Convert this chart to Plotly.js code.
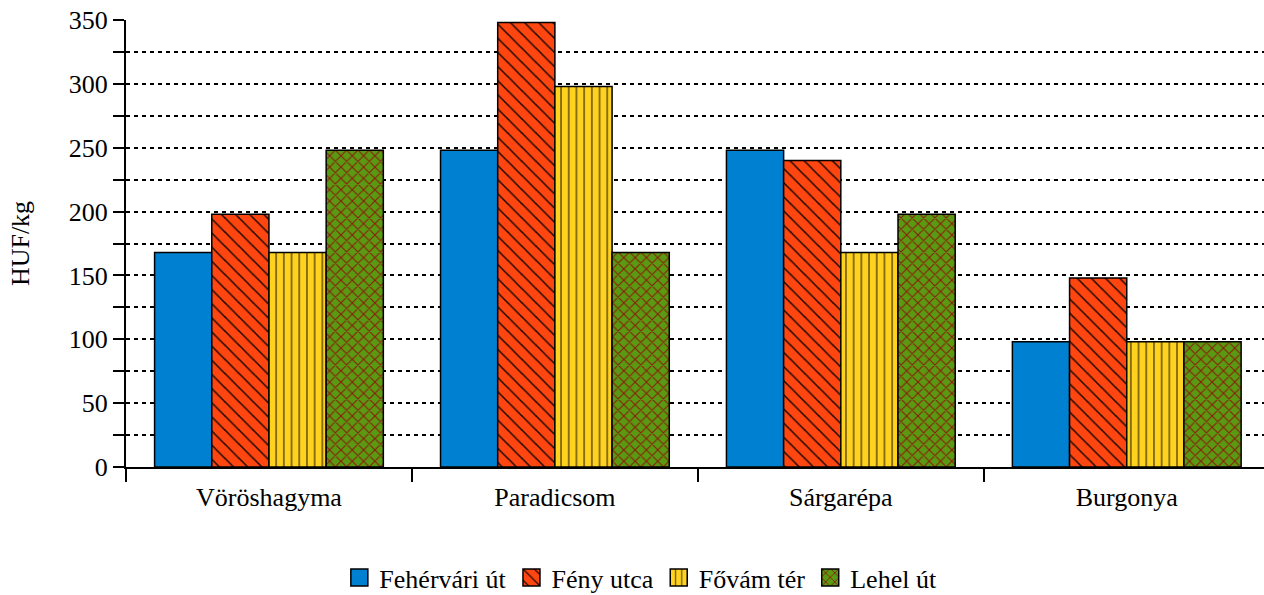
<!DOCTYPE html>
<html>
<head>
<meta charset="utf-8">
<script src="https://cdn.plot.ly/plotly-3.0.1.min.js"></script>
<style>
html,body{margin:0;padding:0;background:#fff;overflow:hidden}#chart{width:1264px;height:595px}
</style>
</head>
<body>
<div id="chart"></div>
<script>
const categories = ["Vöröshagyma", "Paradicsom", "Sárgarépa", "Burgonya"];
const seriesNames = ["Fehérvári út", "Fény utca", "Fővám tér", "Lehel út"];
const fehervari = [168, 248, 248, 98];
const fenyUtca = [198, 348, 240, 148];
const fovamTer = [168, 298, 168, 98];
const lehelUt = [248, 168, 198, 98];
const yTicks = [0, 50, 100, 150, 200, 250, 300, 350];

const FONT = "'Liberation Serif', 'Times New Roman', serif";
const values = [fehervari, fenyUtca, fovamTer, lehelUt];
const colors = ["#0080d0", "#ff4510", "#ffd21f", "#5a9a12"];
const patterns = [
  {shape: ""},
  {shape: "\\", fgcolor: "#1a0a00", bgcolor: "#ff4510", size: 10, solidity: 0.15, fillmode: "replace"},
  {shape: "|", fgcolor: "#6a5410", bgcolor: "#ffd21f", size: 7.7, solidity: 0.2, fillmode: "replace"},
  {shape: "x", fgcolor: "#8a1a0a", bgcolor: "#5a9a12", size: 8, solidity: 0.25, fillmode: "replace"}
];

const data = values.map((v, i) => ({
  type: "bar",
  name: seriesNames[i],
  x: categories,
  y: v,
  marker: {color: colors[i], line: {color: "#000", width: 1.5}, pattern: patterns[i]},
  hoverinfo: "none"
}));

const layout = {
  width: 1264, height: 595,
  margin: {l: 126, r: 0, t: 20, b: 128},
  paper_bgcolor: "#fff", plot_bgcolor: "#fff",
  font: {family: FONT, size: 26, color: "#000"},
  barmode: "group", bargap: 0.2, bargroupgap: 0,
  showlegend: true,
  legend: {
    orientation: "h", xref: "container", yref: "container",
    x: 0.507, xanchor: "center", y: 0, yanchor: "bottom",
    font: {family: FONT, size: 26, color: "#000"},
    itemwidth: 20, tracegroupgap: 0, borderwidth: 0
  },
  xaxis: {
    type: "category", range: [-0.5, 3.48],
    showgrid: false, zeroline: false,
    showline: true, linecolor: "#000", linewidth: 2,
    ticks: "outside", tickson: "boundaries", ticklen: 13, tickwidth: 2, tickcolor: "#000",
    ticklabelstandoff: 6,
    tickfont: {family: FONT, size: 26, color: "#000"}
  },
  yaxis: {
    range: [0, 350], tickvals: yTicks, ticktext: yTicks.map(String),
    showgrid: true, gridcolor: "#000", gridwidth: 2, griddash: "4px,4px",
    zeroline: false,
    showline: true, linecolor: "#000", linewidth: 2,
    ticks: "outside", ticklen: 11, tickwidth: 2, tickcolor: "#000",
    minor: {dtick: 25, tick0: 0, ticks: "outside", ticklen: 11, tickwidth: 2, tickcolor: "#000",
            showgrid: true, gridcolor: "#000", gridwidth: 2, griddash: "4px,4px"},
    tickfont: {family: FONT, size: 26, color: "#000"},
    title: {text: "HUF/kg", font: {family: FONT, size: 26, color: "#000"}, standoff: 32}
  }
};

Plotly.newPlot("chart", data, layout, {displayModeBar: false, staticPlot: true}).then(gd => {
  // enlarge legend swatches to match the reference's bigger squares
  gd.querySelectorAll(".legendpoints path").forEach(p => p.setAttribute("d", "M8.5,8.5H-8.5V-8.5H8.5Z"));
  // nudge legend a few pixels lower
  const lg = gd.querySelector("g.legend");
  if (lg) {
    const t = lg.getAttribute("transform") || "";
    const m = t.match(/translate\(\s*([-\d.]+)[ ,]+([-\d.]+)\s*\)/);
    if (m) lg.setAttribute("transform", "translate(" + m[1] + "," + (parseFloat(m[2]) + 6) + ")");
  }
});
</script>
</body>
</html>
